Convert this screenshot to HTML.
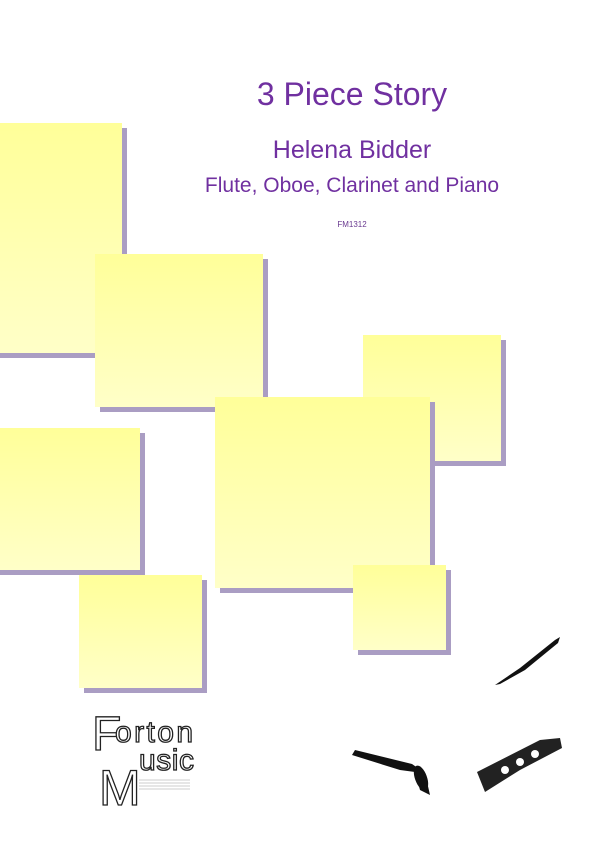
<!DOCTYPE html>
<html><head><meta charset="utf-8"><style>
body{margin:0;width:600px;height:841px;background:#fff;position:relative;overflow:hidden;font-family:"Liberation Sans",sans-serif}
.s{position:absolute;background:linear-gradient(#ffff99,#ffffc8);box-shadow:5px 5px 0 #aa9dc3}
.t{position:absolute;left:100px;width:504px;text-align:center;color:#7030a0;white-space:nowrap}
</style></head><body>
<div class="t" style="top:76px;font-size:32px">3 Piece Story</div>
<div class="t" style="top:136px;font-size:25px">Helena Bidder</div>
<div class="t" style="top:174px;font-size:21px">Flute, Oboe, Clarinet and Piano</div>
<div class="t" style="top:220px;font-size:8px;color:#6a3a90">FM1312</div>
<div class="s" style="left:-5px;top:123px;width:127px;height:230px"></div>
<div class="s" style="left:95px;top:254px;width:168px;height:153px"></div>
<div class="s" style="left:363px;top:335px;width:138px;height:126px"></div>
<div class="s" style="left:-5px;top:428px;width:145px;height:142px"></div>
<div class="s" style="left:215px;top:397px;width:215px;height:191px"></div>
<div class="s" style="left:353px;top:565px;width:93px;height:85px"></div>
<div class="s" style="left:79px;top:575px;width:123px;height:113px"></div>
<svg style="position:absolute;left:0;top:0" width="600" height="841">
<g fill="#fff" stroke="#222" stroke-width="1.3" font-family="Liberation Sans" >
<text x="92" y="750" font-size="48" textLength="26">F</text>
<text x="115" y="742" font-size="30" textLength="78">orton</text>
<text x="99" y="805" font-size="50" textLength="38">M</text>
<text x="139" y="770" font-size="30" textLength="55">usic</text>
</g>
<g stroke="#999" stroke-width="0.6"><line x1="139" y1="780" x2="190" y2="780"/><line x1="139" y1="783" x2="190" y2="783"/><line x1="139" y1="786" x2="190" y2="786"/><line x1="139" y1="789" x2="190" y2="789"/></g>
<path d="M495 685 L520 668 L555 640 L560 637 L558 643 L525 670 L500 684 Z" fill="#111"/>
<path d="M352 755 L400 770 L415 772 L420 790 L430 795 L425 773 L412 764 L355 750 Z" fill="#111"/>
<ellipse cx="421" cy="778" rx="6" ry="13" fill="#111" transform="rotate(-20 421 778)"/>
<path d="M477 772 L540 740 L560 738 L562 748 L520 770 L485 792 Z" fill="#222"/>
<g fill="#fff"><circle cx="505" cy="770" r="4"/><circle cx="520" cy="762" r="4"/><circle cx="535" cy="754" r="4"/></g>
</svg>
</body></html>
